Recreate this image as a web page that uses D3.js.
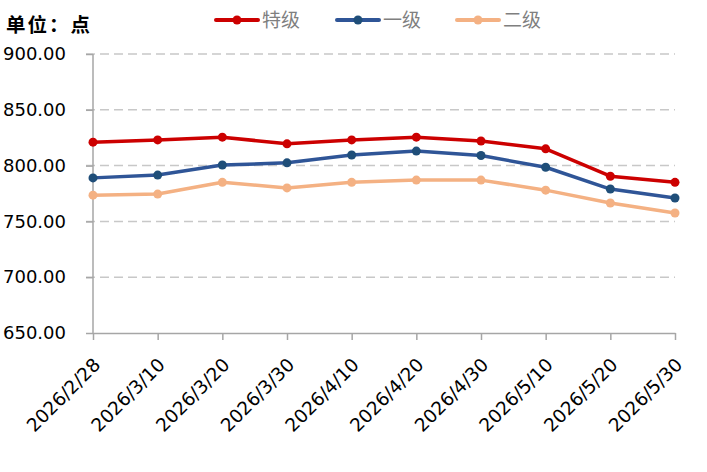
<!DOCTYPE html>
<html>
<head>
<meta charset="utf-8">
<script src="https://cdn.jsdelivr.net/npm/d3@7"></script>
<style>
  body { margin: 0; background: #fff; }
  svg { display: block; }
</style>
</head>
<body>
<svg id="chart"></svg>
<script>
// data
var dates = ['2026/2/28', '2026/3/10', '2026/3/20', '2026/3/30', '2026/4/10',
             '2026/4/20', '2026/4/30', '2026/5/10', '2026/5/20', '2026/5/30'];
var seriesNames = ['特级', '一级', '二级'];
var teji = [821, 823, 825.5, 819.5, 823, 825.5, 822, 815, 790.5, 785];
var yiji = [789, 791.5, 800.5, 802.5, 809.5, 813, 809, 798.5, 779, 771];
var erji = [773.5, 774.5, 785, 780, 785, 787, 787, 778, 766.5, 757.5];
var yTicks = [650, 700, 750, 800, 850, 900];

var width = 707, height = 472;
var plotLeft = 93, plotRight = 675, plotTop = 54, plotBottom = 333;

var svg = d3.select('#chart')
    .attr('width', width)
    .attr('height', height);

var x = d3.scalePoint().domain(dates).range([plotLeft, plotRight]);
var y = d3.scaleLinear().domain([650, 900]).range([plotBottom, plotTop]);

// gridlines (dashed), starting at the tick mark
svg.selectAll('.grid')
    .data(yTicks.filter(d => d > 650))
    .enter().append('line')
    .attr('x1', plotLeft - 7)
    .attr('x2', plotRight)
    .attr('y1', d => y(d))
    .attr('y2', d => y(d))
    .style('stroke', '#c8c8c8')
    .style('stroke-width', 1.5)
    .style('stroke-dasharray', '9,5');

// y axis
var yAxis = svg.append('g')
    .attr('transform', 'translate(' + plotLeft + ',0)')
    .call(d3.axisLeft(y).tickValues(yTicks).tickSize(7).tickFormat(d3.format('.2f')));
yAxis.select('.domain').remove();
yAxis.append('line')
    .attr('x1', 0).attr('x2', 0)
    .attr('y1', plotTop).attr('y2', plotBottom)
    .style('stroke', '#a6a6a6').style('stroke-width', 1.5);
yAxis.selectAll('.tick line').style('stroke', '#a6a6a6').style('stroke-width', 1.5);
yAxis.selectAll('.tick text')
    .attr('x', -90)
    .attr('text-anchor', 'start')
    .style('font-family', 'DejaVu Sans')
    .style('font-size', '18px')
    .style('fill', '#000');

// x axis
var xAxis = svg.append('g')
    .attr('transform', 'translate(0,' + plotBottom + ')')
    .call(d3.axisBottom(x).tickSize(7).tickSizeOuter(0));
xAxis.select('.domain').style('stroke', '#a6a6a6').style('stroke-width', 1.5);
xAxis.selectAll('.tick line').style('stroke', '#a6a6a6').style('stroke-width', 1.5);
xAxis.selectAll('.tick text')
    .attr('x', 0).attr('y', 0).attr('dy', 0)
    .attr('text-anchor', 'end')
    .attr('transform', 'translate(8,33) rotate(-45)')
    .style('font-family', 'DejaVu Sans')
    .style('font-size', '18.5px')
    .style('fill', '#000');

var series = [
    {name: seriesNames[0], values: teji, color: '#cc0000', marker: '#cc0000'},
    {name: seriesNames[1], values: yiji, color: '#2f5597', marker: '#1f4e79'},
    {name: seriesNames[2], values: erji, color: '#f4b183', marker: '#f4b183'}
];

var line = d3.line()
    .x((d, i) => x(dates[i]))
    .y(d => y(d));

series.forEach(function (s) {
    svg.append('path')
        .datum(s.values)
        .attr('d', line)
        .style('fill', 'none')
        .style('stroke', s.color)
        .style('stroke-width', 3.5)
        .style('stroke-linejoin', 'round');
    svg.selectAll(null)
        .data(s.values)
        .enter().append('circle')
        .attr('cx', (d, i) => x(dates[i]))
        .attr('cy', d => y(d))
        .attr('r', 4.5)
        .style('fill', s.marker);
});

// unit label
svg.append('text')
    .attr('x', 6).attr('y', 32)
    .style('font-family', 'Noto Sans CJK SC')
    .style('font-weight', 'bold')
    .style('font-size', '19.5px')
    .style('letter-spacing', '2px')
    .style('fill', '#000')
    .text('单位：点');

// legend
var legendX = [216, 337, 457];
var legend = svg.selectAll('.legend')
    .data(series)
    .enter().append('g')
    .attr('class', 'legend')
    .attr('transform', (d, i) => 'translate(' + legendX[i] + ',20)');
legend.append('line')
    .attr('x1', 0).attr('x2', 42)
    .style('stroke', d => d.color)
    .style('stroke-width', 4)
    .style('stroke-linecap', 'round');
legend.append('circle')
    .attr('cx', 21).attr('r', 4.5)
    .style('fill', d => d.marker);
legend.append('text')
    .attr('x', 46).attr('dy', '0.36em')
    .style('font-family', 'Noto Sans CJK SC')
    .style('font-size', '19px')
    .style('fill', '#7f7f7f')
    .text(d => d.name);
</script>
</body>
</html>
